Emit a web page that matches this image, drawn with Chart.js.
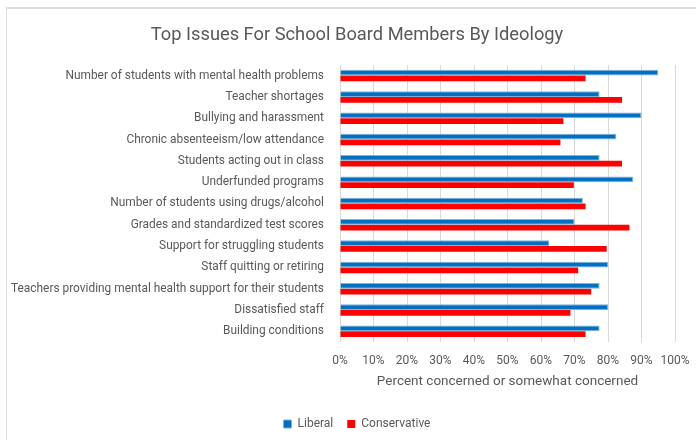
<!DOCTYPE html>
<html>
<head>
<meta charset="utf-8">
<script src="https://cdn.jsdelivr.net/npm/chart.js@4"></script>
<style>
  html, body { margin: 0; padding: 0; background: #fff; }
  #wrap { position: relative; width: 696px; height: 440px; overflow: hidden; }
  #issuesChart { position: absolute; left: 6px; top: 0; }
</style>
</head>
<body>
<div id="wrap"><canvas id="issuesChart" width="702" height="440"></canvas></div>
<script>
const issues = [
    'Number of students with mental health problems',
    'Teacher shortages',
    'Bullying and harassment',
    'Chronic absenteeism/low attendance',
    'Students acting out in class',
    'Underfunded programs',
    'Number of students using drugs/alcohol',
    'Grades and standardized test scores',
    'Support for struggling students',
    'Staff quitting or retiring',
    'Teachers providing mental health support for their students',
    'Dissatisfied staff',
    'Building conditions'
];
const liberal = [95, 77.5, 90, 82.5, 77.5, 87.5, 72.5, 70, 62.5, 80, 77.5, 80, 77.5];
const conservative = [73.3, 84.2, 66.7, 65.8, 84.2, 69.8, 73.3, 86.4, 79.6, 71.1, 75, 68.8, 73.3];
const xTicks = [0, 10, 20, 30, 40, 50, 60, 70, 80, 90, 100];

const FONT = "'Roboto', sans-serif";
const GREY = '#595959';

// thin frame on the left and top edges
const frame = {
    id: 'frame',
    beforeDraw: function (chart) {
        const { ctx } = chart;
        ctx.save();
        ctx.strokeStyle = '#dedede';
        ctx.lineWidth = 2;
        ctx.beginPath();
        ctx.moveTo(0, chart.height);
        ctx.lineTo(0, 8);
        ctx.lineTo(chart.width, 8);
        ctx.stroke();
        ctx.restore();
    }
};

const ctx = document.getElementById('issuesChart').getContext('2d');
const myChart = new Chart(ctx, {
    type: 'bar',
    data: {
        labels: issues,
        datasets: [{
            label: 'Liberal',
            data: liberal,
            backgroundColor: '#0070C0',
            borderColor: '#7fb0dc',
            borderWidth: 1,
            categoryPercentage: 0.54,
            barPercentage: 1
        }, {
            label: 'Conservative',
            data: conservative,
            backgroundColor: '#FF0000',
            borderWidth: 0,
            categoryPercentage: 0.54,
            barPercentage: 1
        }]
    },
    options: {
        indexAxis: 'y',
        responsive: false,
        animation: false,
        layout: {
            padding: 0
        },
        scales: {
            x: {
                min: 0,
                max: 100,
                afterBuildTicks: function (scale) {
                    scale.ticks = xTicks.map(v => ({ value: v }));
                },
                afterFit: function (scale) {
                    scale.height = 62;
                },
                grid: { color: '#d9d9d9', drawTicks: false },
                border: { display: false },
                ticks: {
                    color: GREY,
                    padding: 12,
                    maxRotation: 0,
                    minRotation: 0,
                    font: { family: FONT, size: 12 },
                    callback: v => v + '%'
                },
                title: {
                    display: true,
                    text: 'Percent concerned or somewhat concerned',
                    color: GREY,
                    font: { family: FONT, size: 13.5 },
                    padding: { top: 0, bottom: 14 }
                }
            },
            y: {
                grid: { display: false },
                border: { display: false },
                afterFit: function (scale) {
                    scale.width = 334;
                },
                ticks: {
                    color: GREY,
                    padding: 8,
                    autoSkip: false,
                    font: { family: FONT, size: 11.9 }
                }
            },
            // empty strip on the right so the plot stops short of the edge
            rightGap: {
                type: 'linear',
                position: 'right',
                grid: { display: false },
                border: { display: false },
                ticks: { display: false },
                afterFit: function (scale) {
                    scale.width = 33;
                }
            }
        },
        plugins: {
            title: {
                display: true,
                text: 'Top Issues For School Board Members By Ideology',
                color: GREY,
                font: { family: FONT, size: 18.3, weight: 'normal' },
                padding: { top: 24, bottom: 19 }
            },
            legend: {
                position: 'bottom',
                labels: {
                    color: GREY,
                    boxWidth: 8,
                    boxHeight: 8,
                    padding: 14,
                    font: { family: FONT, size: 12 }
                }
            },
            tooltip: { enabled: false }
        }
    },
    plugins: [frame]
});
</script>
</body>
</html>
